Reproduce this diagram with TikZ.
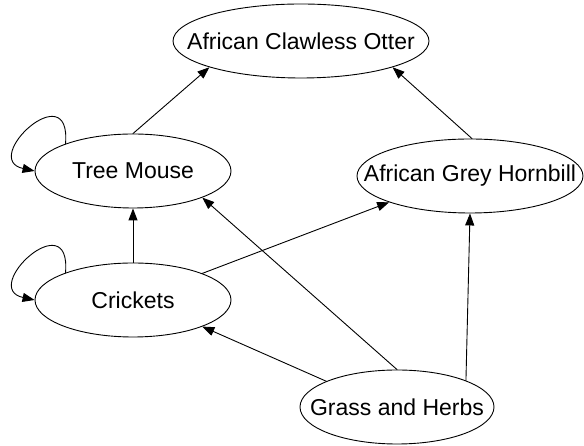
\documentclass[tikz,border=0pt]{standalone}
\usepackage{fontspec}
\setmainfont{Liberation Sans}
\usepackage{tikz}
\usetikzlibrary{arrows.meta,shapes.geometric}
\definecolor{Ink}{HTML}{000000}
\newcommand{\spname}[1]{\makebox[0pt]{#1}}

\begin{document}
\begin{tikzpicture}[x=1pt,y=1pt,
      font=\fontsize{23}{27}\selectfont,
      line cap=round,line join=round,
      species/.style={ellipse,draw=Ink,line width=0.9pt,inner sep=0pt,
        minimum width=#1,minimum height=74pt},
      feeds/.style={draw=Ink,line width=0.9pt,
        -{Triangle[length=12pt,width=9pt]}}]
    \useasboundingbox (0,0) rectangle (584,446);
    \node[species=256pt] (otter) at (301,405) {\spname{African Clawless Otter}};
    \node[species=196pt] (mouse) at (133,275) {\spname{Tree Mouse}};
    \node[species=196pt] (crickets) at (133,146) {\spname{Crickets}};
    \node[species=226pt] (hornbill) at (470,270) {\spname{African Grey Hornbill}};
    \node[species=194pt] (grass) at (397,39) {\spname{Grass and Herbs}};

    \draw[feeds] (mouse.90) -- (otter.196);
    \draw[feeds] (hornbill.87) -- (otter.344);
    \draw[feeds] (crickets.90) -- (mouse.270);
    \draw[feeds] (crickets.21) -- (hornbill.198);
    \draw[feeds] (grass.90) -- (mouse.339);
    \draw[feeds] (grass.160) -- (crickets.339);
    \draw[feeds] (grass.21) -- (hornbill.270);
    % self loops
    \draw[feeds] (mouse.158) .. controls +(6,70) and +(-55,12) .. (mouse.180);
    \draw[feeds] (crickets.158) .. controls +(6,70) and +(-55,12) .. (crickets.180);
  \end{tikzpicture}
\end{document}
